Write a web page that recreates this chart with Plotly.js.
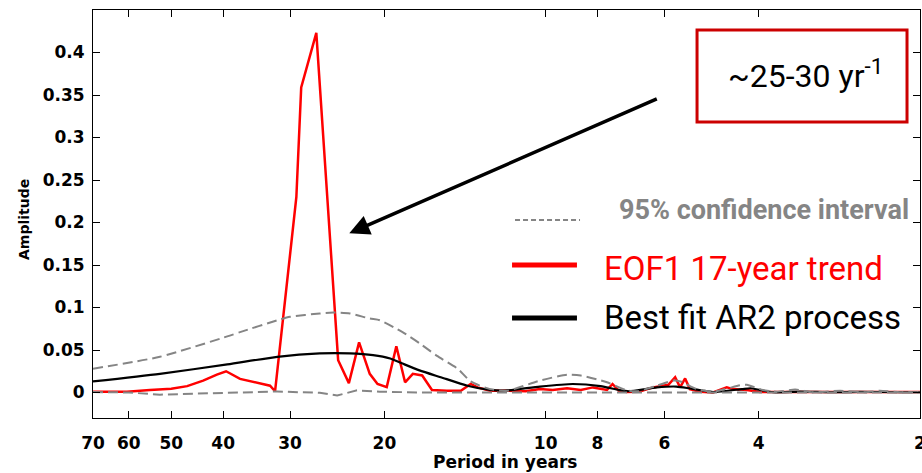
<!DOCTYPE html>
<html>
<head>
<meta charset="utf-8">
<script src="https://cdn.plot.ly/plotly-3.0.1.min.js"></script>
<style>html,body{margin:0;padding:0;background:#fff;}#chart{width:922px;height:473px;}</style>
</head>
<body>
<div id="chart"></div>
<script>
// ---- data (period in years, amplitude) ----
const eofPeriod = [70, 60.5, 54.8, 50, 46.7, 43.6, 41.1, 39.5, 37.2, 34.2, 32.7, 32.0, 29.2, 28.6, 26.8, 24.4, 23.3, 22.3, 21.3, 20.6, 19.8, 19.0, 18.3, 17.7, 17.0, 16.3, 15.3, 14.4, 13.8, 13.4, 12.7, 11.7, 10.9, 10.25, 9.7, 9.12, 8.6, 8.16, 7.68, 7.5, 7.3, 7.05, 6.7, 6.3, 6.04, 5.9, 5.73, 5.61, 5.49, 5.38, 5.15, 4.87, 4.59, 4.47, 4.21, 3.98, 3.35, 2.8, 2.4, 2];
const eofAmp = [0.001, 0.001, 0.003, 0.0045, 0.0075, 0.014, 0.021, 0.025, 0.016, 0.011, 0.008, 0.0015, 0.23, 0.359, 0.423, 0.038, 0.011, 0.059, 0.022, 0.010, 0.0063, 0.0545, 0.012, 0.022, 0.020, 0.003, 0.002, 0.002, 0.010, 0.006, 0.002, 0.002, 0.0015, 0.004, 0.003, 0.005, 0.003, 0.006, 0.003, 0.010, 0.002, 0.0005, 0.001, 0.006, 0.008, 0.009, 0.018, 0.006, 0.0165, 0.004, 0.001, 0.0, 0.006, 0.004, 0.003, 0.0005, 0.0005, 0.0005, 0.0005, 0.0005];

const arPeriod = [70, 52.5, 39.3, 31.7, 26.4, 23.2, 21.0, 19.5, 18.5, 17.2, 15.7, 14.0, 12.7, 11.9, 10.25, 8.9, 7.9, 7.3, 7.0, 6.2, 5.7, 5.4, 5.1, 4.87, 4.3, 4.15, 3.98, 3.76, 3.35, 2.94, 2.59, 2.18, 2];
const arAmp = [0.013, 0.022, 0.033, 0.042, 0.046, 0.046, 0.044, 0.040, 0.034, 0.026, 0.018, 0.008, 0.003, 0.0022, 0.007, 0.010, 0.0075, 0.003, 0.0015, 0.006, 0.007, 0.005, 0.0024, 0.0005, 0.004, 0.005, 0.003, 0.0003, 0.001, 0.0003, 0.0008, 0.0003, 0.0003];

const ciUpPeriod = [70, 52.5, 39.3, 37.2, 31.7, 30, 26.4, 24.9, 23.2, 21.3, 20.4, 18.5, 17.2, 15.95, 14.6, 13.8, 12.7, 11.8, 10.25, 9.12, 8.6, 7.68, 7.05, 6.75, 6.2, 5.78, 5.6, 5.22, 4.87, 4.3, 4.21, 3.93, 3.70, 3.42, 3.17, 2.82, 2.53, 2.38, 2.18, 2];
const ciUpAmp = [0.028, 0.042, 0.066, 0.071, 0.085, 0.089, 0.093, 0.094, 0.093, 0.087, 0.085, 0.071, 0.058, 0.043, 0.028, 0.013, 0.004, 0.002, 0.014, 0.021, 0.020, 0.012, 0.0025, 0.0015, 0.008, 0.014, 0.013, 0.004, 0.001, 0.009, 0.009, 0.003, 0.001, 0.0035, 0.0003, 0.002, 0.0003, 0.002, 0.0003, 0.0003];

const ciLoPeriod = [70, 60, 52.5, 44.2, 37.2, 31.7, 26.4, 24.5, 22.5, 20.4, 17.2, 14.4, 12.2, 10, 8, 6, 4, 3, 2];
const ciLoAmp = [0.0005, 0.0, -0.0025, -0.001, 0.0, 0.0012, -0.0004, -0.0035, 0.0025, 0.001, 0.0, 0.0, 0.0, 0, 0, 0, 0, 0, 0];

const xTickVals = [70, 60, 50, 40, 30, 20, 10, 8, 6, 4, 2];
const xTickText = ['70', '60', '50', '40', '30', '20', '10', '8', '6', '4', '2'];
const yTickVals = [0, 0.05, 0.1, 0.15, 0.2, 0.25, 0.3, 0.35, 0.4];
const yTickText = ['0', '0.05', '0.1', '0.15', '0.2', '0.25', '0.3', '0.35', '0.4'];

const legendCI = '95% confidence interval';
const legendEOF = 'EOF1 17-year trend';
const legendAR = 'Best fit AR2 process';
const boxText = '~25-30 yr<sup>-1</sup>';

const GRAY = '#858585';
const tickFont = {family: 'DejaVu Sans, sans-serif', size: 17, color: '#000', weight: 'bold'};
const legFont = 'Roboto, sans-serif';

const traces = [
  {x: eofPeriod, y: eofAmp, type: 'scatter', mode: 'lines', line: {color: '#ff0000', width: 2.5}, hoverinfo: 'skip'},
  {x: arPeriod, y: arAmp, type: 'scatter', mode: 'lines', line: {color: '#000', width: 2.2, shape: 'spline', smoothing: 0.6}, hoverinfo: 'skip'},
  {x: ciUpPeriod, y: ciUpAmp, type: 'scatter', mode: 'lines', line: {color: GRAY, width: 2, dash: '10px,5px', shape: 'spline', smoothing: 0.6}, hoverinfo: 'skip'},
  {x: ciLoPeriod, y: ciLoAmp, type: 'scatter', mode: 'lines', line: {color: GRAY, width: 2, dash: '10px,5px'}, hoverinfo: 'skip'}
];

const layout = {
  width: 922, height: 473,
  margin: {l: 93, r: 2, t: 10, b: 55, pad: 0},
  paper_bgcolor: '#fff', plot_bgcolor: '#fff',
  showlegend: false,
  xaxis: {
    type: 'log', range: [Math.log10(70), Math.log10(2)],
    tickvals: xTickVals, ticktext: xTickText,
    ticks: 'inside', ticklen: 7, tickwidth: 1, tickcolor: '#000',
    showline: true, linecolor: '#000', linewidth: 1, mirror: 'ticks',
    showgrid: false, zeroline: false,
    tickfont: tickFont, ticklabelstandoff: 10, ticklabeloverflow: 'allow'
  },
  yaxis: {
    range: [-0.03, 0.45],
    tickvals: yTickVals, ticktext: yTickText,
    ticks: 'inside', ticklen: 7, tickwidth: 1, tickcolor: '#000',
    showline: true, linecolor: '#000', linewidth: 1, mirror: 'ticks',
    showgrid: false, zeroline: false,
    tickfont: tickFont, ticklabelstandoff: 4
  },
  shapes: [
    {type: 'line', xref: 'paper', yref: 'paper', x0: 0.5103, x1: 0.5889, y0: 0.4853, y1: 0.4853, line: {color: GRAY, width: 2, dash: '5px,3px'}},
    {type: 'line', xref: 'paper', yref: 'paper', x0: 0.5067, x1: 0.5852, y0: 0.375, y1: 0.375, line: {color: '#ff0000', width: 5}},
    {type: 'line', xref: 'paper', yref: 'paper', x0: 0.5067, x1: 0.5852, y0: 0.2451, y1: 0.2451, line: {color: '#000', width: 5}},
    {type: 'rect', xref: 'paper', yref: 'paper', x0: 0.7304, x1: 0.9843, y0: 0.7255, y1: 0.951, line: {color: '#cc0000', width: 3}, fillcolor: 'rgba(0,0,0,0)'}
  ],
  annotations: [
    {xref: 'paper', yref: 'paper', x: -0.0834, y: 0.4853, text: 'Amplitude', textangle: -90, showarrow: false, xanchor: 'center', yanchor: 'middle', font: {family: 'DejaVu Sans, sans-serif', size: 14, color: '#000', weight: 'bold'}},
    {xref: 'paper', yref: 'paper', x: 0.498, y: -0.108, text: 'Period in years', showarrow: false, xanchor: 'center', yanchor: 'middle', font: {family: 'DejaVu Sans, sans-serif', size: 17, color: '#000', weight: 'bold'}},
    {xref: 'paper', yref: 'paper', x: 0.6333, y: 0.5098, text: legendCI, showarrow: false, xanchor: 'left', yanchor: 'middle', font: {family: legFont, size: 27, color: GRAY, weight: 'bold'}},
    {xref: 'paper', yref: 'paper', x: 0.6151, y: 0.3664, text: legendEOF, showarrow: false, xanchor: 'left', yanchor: 'middle', font: {family: legFont, size: 33, color: '#ff0000'}},
    {xref: 'paper', yref: 'paper', x: 0.6151, y: 0.2463, text: legendAR, showarrow: false, xanchor: 'left', yanchor: 'middle', font: {family: legFont, size: 33, color: '#000'}},
    {xref: 'paper', yref: 'paper', x: 0.862, y: 0.843, text: boxText, showarrow: false, xanchor: 'center', yanchor: 'middle', font: {family: legFont, size: 32, color: '#000'}},
    {xref: 'paper', yref: 'paper', x: 0.3099, y: 0.4527, text: '', showarrow: true, ax: 309, ay: -135, axref: 'pixel', ayref: 'pixel', arrowhead: 2, arrowsize: 1.15, arrowwidth: 3.5, arrowcolor: '#000', standoff: 0}
  ]
};

Plotly.newPlot('chart', traces, layout, {displayModeBar: false, staticPlot: true});
</script>
</body>
</html>
